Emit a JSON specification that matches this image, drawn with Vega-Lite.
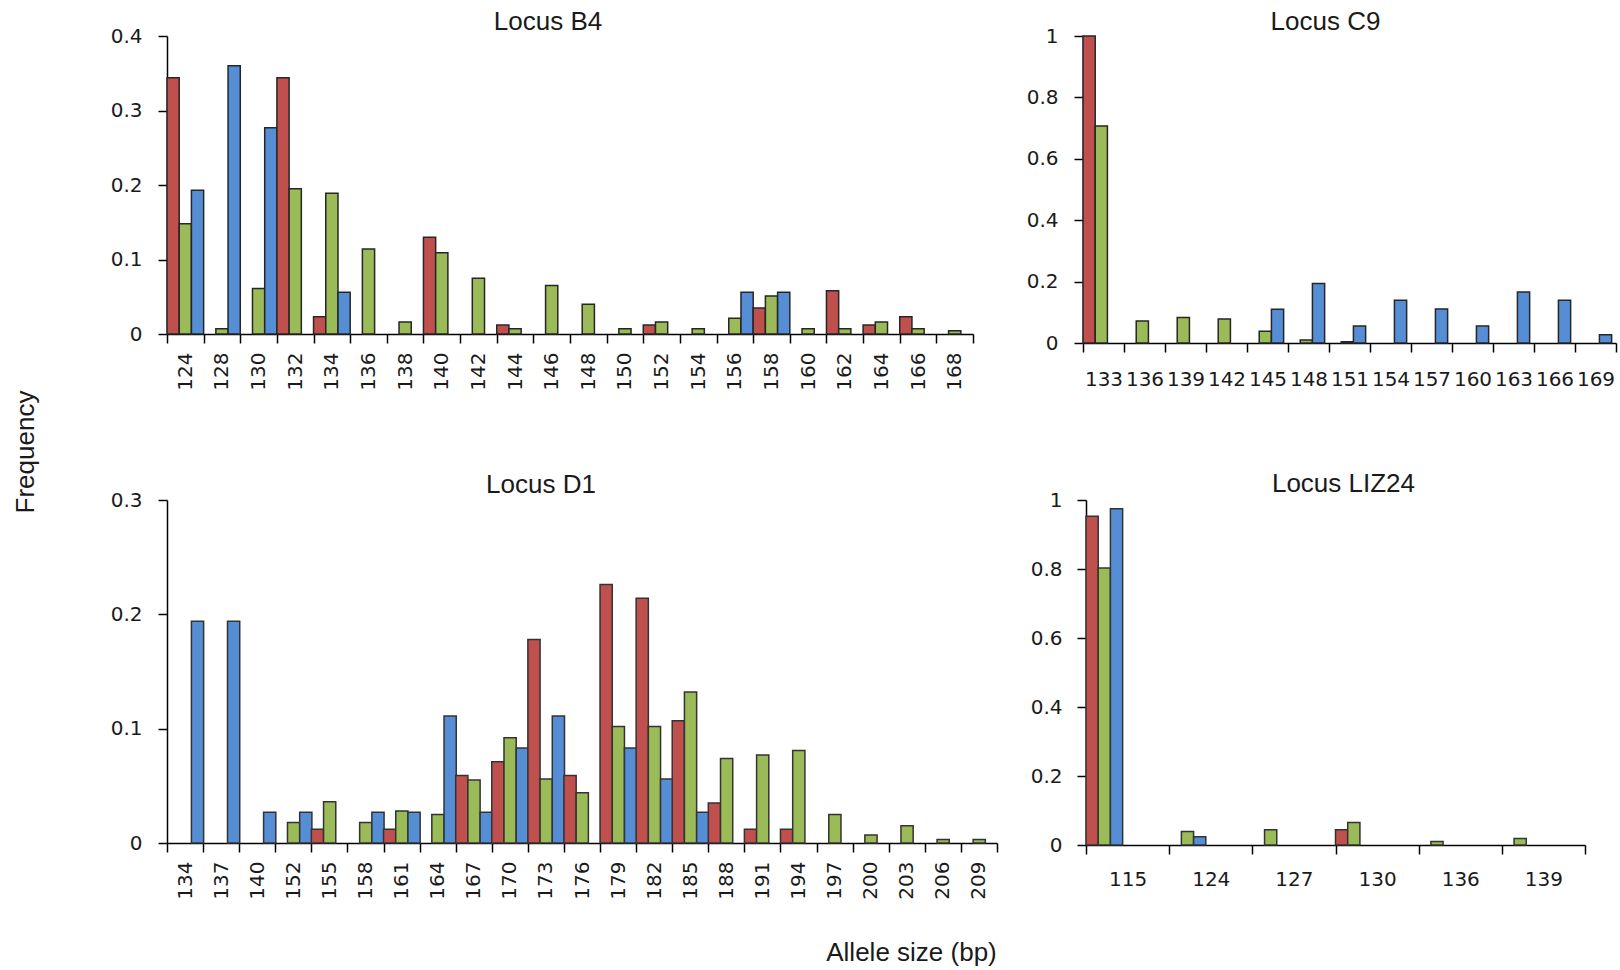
{
  "$schema": "https://vega.github.io/schema/vega-lite/v6.json",
  "padding": {"left": 13, "top": 9, "right": 3, "bottom": 5},
  "background": "white",
  "title": {"text": "Frequency", "orient": "left", "anchor": "middle", "fontSize": 26, "fontWeight": "normal", "font": "Liberation Sans", "color": "#1a1a1a", "offset": 71, "dx": 35},
  "datasets": {
    "alleles": [
      {"locus": "B4", "allele": 124, "pop": "Pop 1", "freq": 0.344},
      {"locus": "B4", "allele": 124, "pop": "Pop 2", "freq": 0.148},
      {"locus": "B4", "allele": 124, "pop": "Pop 3", "freq": 0.193},
      {"locus": "B4", "allele": 128, "pop": "Pop 2", "freq": 0.007},
      {"locus": "B4", "allele": 128, "pop": "Pop 3", "freq": 0.360},
      {"locus": "B4", "allele": 130, "pop": "Pop 2", "freq": 0.061},
      {"locus": "B4", "allele": 130, "pop": "Pop 3", "freq": 0.277},
      {"locus": "B4", "allele": 132, "pop": "Pop 1", "freq": 0.344},
      {"locus": "B4", "allele": 132, "pop": "Pop 2", "freq": 0.195},
      {"locus": "B4", "allele": 134, "pop": "Pop 1", "freq": 0.023},
      {"locus": "B4", "allele": 134, "pop": "Pop 2", "freq": 0.189},
      {"locus": "B4", "allele": 134, "pop": "Pop 3", "freq": 0.056},
      {"locus": "B4", "allele": 136, "pop": "Pop 2", "freq": 0.114},
      {"locus": "B4", "allele": 138, "pop": "Pop 2", "freq": 0.016},
      {"locus": "B4", "allele": 140, "pop": "Pop 1", "freq": 0.130},
      {"locus": "B4", "allele": 140, "pop": "Pop 2", "freq": 0.109},
      {"locus": "B4", "allele": 142, "pop": "Pop 2", "freq": 0.075},
      {"locus": "B4", "allele": 144, "pop": "Pop 1", "freq": 0.012},
      {"locus": "B4", "allele": 144, "pop": "Pop 2", "freq": 0.007},
      {"locus": "B4", "allele": 146, "pop": "Pop 2", "freq": 0.065},
      {"locus": "B4", "allele": 148, "pop": "Pop 2", "freq": 0.040},
      {"locus": "B4", "allele": 150, "pop": "Pop 2", "freq": 0.007},
      {"locus": "B4", "allele": 152, "pop": "Pop 1", "freq": 0.012},
      {"locus": "B4", "allele": 152, "pop": "Pop 2", "freq": 0.016},
      {"locus": "B4", "allele": 154, "pop": "Pop 2", "freq": 0.007},
      {"locus": "B4", "allele": 156, "pop": "Pop 2", "freq": 0.021},
      {"locus": "B4", "allele": 156, "pop": "Pop 3", "freq": 0.056},
      {"locus": "B4", "allele": 158, "pop": "Pop 1", "freq": 0.035},
      {"locus": "B4", "allele": 158, "pop": "Pop 2", "freq": 0.051},
      {"locus": "B4", "allele": 158, "pop": "Pop 3", "freq": 0.056},
      {"locus": "B4", "allele": 160, "pop": "Pop 2", "freq": 0.007},
      {"locus": "B4", "allele": 162, "pop": "Pop 1", "freq": 0.058},
      {"locus": "B4", "allele": 162, "pop": "Pop 2", "freq": 0.007},
      {"locus": "B4", "allele": 164, "pop": "Pop 1", "freq": 0.012},
      {"locus": "B4", "allele": 164, "pop": "Pop 2", "freq": 0.016},
      {"locus": "B4", "allele": 166, "pop": "Pop 1", "freq": 0.023},
      {"locus": "B4", "allele": 166, "pop": "Pop 2", "freq": 0.007},
      {"locus": "B4", "allele": 168, "pop": "Pop 2", "freq": 0.0045},

      {"locus": "C9", "allele": 133, "pop": "Pop 1", "freq": 1.0},
      {"locus": "C9", "allele": 133, "pop": "Pop 2", "freq": 0.707},
      {"locus": "C9", "allele": 136, "pop": "Pop 2", "freq": 0.072},
      {"locus": "C9", "allele": 139, "pop": "Pop 2", "freq": 0.083},
      {"locus": "C9", "allele": 142, "pop": "Pop 2", "freq": 0.078},
      {"locus": "C9", "allele": 145, "pop": "Pop 2", "freq": 0.038},
      {"locus": "C9", "allele": 145, "pop": "Pop 3", "freq": 0.110},
      {"locus": "C9", "allele": 148, "pop": "Pop 2", "freq": 0.010},
      {"locus": "C9", "allele": 148, "pop": "Pop 3", "freq": 0.194},
      {"locus": "C9", "allele": 151, "pop": "Pop 2", "freq": 0.004},
      {"locus": "C9", "allele": 151, "pop": "Pop 3", "freq": 0.055},
      {"locus": "C9", "allele": 154, "pop": "Pop 3", "freq": 0.139},
      {"locus": "C9", "allele": 157, "pop": "Pop 3", "freq": 0.111},
      {"locus": "C9", "allele": 160, "pop": "Pop 3", "freq": 0.055},
      {"locus": "C9", "allele": 163, "pop": "Pop 3", "freq": 0.166},
      {"locus": "C9", "allele": 166, "pop": "Pop 3", "freq": 0.139},
      {"locus": "C9", "allele": 169, "pop": "Pop 3", "freq": 0.027},

      {"locus": "D1", "allele": 134, "pop": "Pop 3", "freq": 0.194},
      {"locus": "D1", "allele": 137, "pop": "Pop 3", "freq": 0.194},
      {"locus": "D1", "allele": 140, "pop": "Pop 3", "freq": 0.027},
      {"locus": "D1", "allele": 152, "pop": "Pop 2", "freq": 0.018},
      {"locus": "D1", "allele": 152, "pop": "Pop 3", "freq": 0.027},
      {"locus": "D1", "allele": 155, "pop": "Pop 1", "freq": 0.012},
      {"locus": "D1", "allele": 155, "pop": "Pop 2", "freq": 0.036},
      {"locus": "D1", "allele": 158, "pop": "Pop 2", "freq": 0.018},
      {"locus": "D1", "allele": 158, "pop": "Pop 3", "freq": 0.027},
      {"locus": "D1", "allele": 161, "pop": "Pop 1", "freq": 0.012},
      {"locus": "D1", "allele": 161, "pop": "Pop 2", "freq": 0.028},
      {"locus": "D1", "allele": 161, "pop": "Pop 3", "freq": 0.027},
      {"locus": "D1", "allele": 164, "pop": "Pop 2", "freq": 0.025},
      {"locus": "D1", "allele": 164, "pop": "Pop 3", "freq": 0.111},
      {"locus": "D1", "allele": 167, "pop": "Pop 1", "freq": 0.059},
      {"locus": "D1", "allele": 167, "pop": "Pop 2", "freq": 0.055},
      {"locus": "D1", "allele": 167, "pop": "Pop 3", "freq": 0.027},
      {"locus": "D1", "allele": 170, "pop": "Pop 1", "freq": 0.071},
      {"locus": "D1", "allele": 170, "pop": "Pop 2", "freq": 0.092},
      {"locus": "D1", "allele": 170, "pop": "Pop 3", "freq": 0.083},
      {"locus": "D1", "allele": 173, "pop": "Pop 1", "freq": 0.178},
      {"locus": "D1", "allele": 173, "pop": "Pop 2", "freq": 0.056},
      {"locus": "D1", "allele": 173, "pop": "Pop 3", "freq": 0.111},
      {"locus": "D1", "allele": 176, "pop": "Pop 1", "freq": 0.059},
      {"locus": "D1", "allele": 176, "pop": "Pop 2", "freq": 0.044},
      {"locus": "D1", "allele": 179, "pop": "Pop 1", "freq": 0.226},
      {"locus": "D1", "allele": 179, "pop": "Pop 2", "freq": 0.102},
      {"locus": "D1", "allele": 179, "pop": "Pop 3", "freq": 0.083},
      {"locus": "D1", "allele": 182, "pop": "Pop 1", "freq": 0.214},
      {"locus": "D1", "allele": 182, "pop": "Pop 2", "freq": 0.102},
      {"locus": "D1", "allele": 182, "pop": "Pop 3", "freq": 0.056},
      {"locus": "D1", "allele": 185, "pop": "Pop 1", "freq": 0.107},
      {"locus": "D1", "allele": 185, "pop": "Pop 2", "freq": 0.132},
      {"locus": "D1", "allele": 185, "pop": "Pop 3", "freq": 0.027},
      {"locus": "D1", "allele": 188, "pop": "Pop 1", "freq": 0.035},
      {"locus": "D1", "allele": 188, "pop": "Pop 2", "freq": 0.074},
      {"locus": "D1", "allele": 191, "pop": "Pop 1", "freq": 0.012},
      {"locus": "D1", "allele": 191, "pop": "Pop 2", "freq": 0.077},
      {"locus": "D1", "allele": 194, "pop": "Pop 1", "freq": 0.012},
      {"locus": "D1", "allele": 194, "pop": "Pop 2", "freq": 0.081},
      {"locus": "D1", "allele": 197, "pop": "Pop 2", "freq": 0.025},
      {"locus": "D1", "allele": 200, "pop": "Pop 2", "freq": 0.007},
      {"locus": "D1", "allele": 203, "pop": "Pop 2", "freq": 0.015},
      {"locus": "D1", "allele": 206, "pop": "Pop 2", "freq": 0.003},
      {"locus": "D1", "allele": 209, "pop": "Pop 2", "freq": 0.003},

      {"locus": "LIZ24", "allele": 115, "pop": "Pop 1", "freq": 0.953},
      {"locus": "LIZ24", "allele": 115, "pop": "Pop 2", "freq": 0.803},
      {"locus": "LIZ24", "allele": 115, "pop": "Pop 3", "freq": 0.975},
      {"locus": "LIZ24", "allele": 124, "pop": "Pop 2", "freq": 0.039},
      {"locus": "LIZ24", "allele": 124, "pop": "Pop 3", "freq": 0.024},
      {"locus": "LIZ24", "allele": 127, "pop": "Pop 2", "freq": 0.044},
      {"locus": "LIZ24", "allele": 130, "pop": "Pop 1", "freq": 0.044},
      {"locus": "LIZ24", "allele": 130, "pop": "Pop 2", "freq": 0.065},
      {"locus": "LIZ24", "allele": 136, "pop": "Pop 2", "freq": 0.010},
      {"locus": "LIZ24", "allele": 139, "pop": "Pop 2", "freq": 0.019}
    ]
  },
  "data": {"name": "alleles"},
  "spacing": 80,
  "vconcat": [
    {
      "spacing": 52,
      "hconcat": [
        {
          "width": 806, "height": 298,
          "title": {"text": "Locus B4", "baseline": "alphabetic", "offset": -30, "dx": -22},
          "transform": [{"filter": "datum.locus === 'B4'"}],
          "mark": {"type": "bar", "stroke": "#262626", "strokeWidth": 1.5},
          "encoding": {
            "x": {"field": "allele", "type": "ordinal",
              "scale": {"domain": [124,128,130,132,134,136,138,140,142,144,146,148,150,152,154,156,158,160,162,164,166,168], "paddingInner": 0, "paddingOuter": 0},
              "axis": {"labelAngle": -90, "labelPadding": 9}},
            "xOffset": {"field": "pop", "scale": {"domain": ["Pop 1", "Pop 2", "Pop 3"], "paddingInner": 0, "paddingOuter": 0}},
            "y": {"field": "freq", "type": "quantitative", "scale": {"domain": [0, 0.4], "nice": false},
              "axis": {"values": [0, 0.1, 0.2, 0.3, 0.4], "labelPadding": 16}},
            "color": {"field": "pop", "type": "nominal", "legend": null,
              "scale": {"domain": ["Pop 1", "Pop 2", "Pop 3"], "range": ["#C0504D", "#9BBB59", "#558ED5"]}}
          }
        },
        {
          "width": 533, "height": 307,
          "title": {"text": "Locus C9", "baseline": "alphabetic", "offset": -30, "dx": -24},
          "transform": [{"filter": "datum.locus === 'C9'"}],
          "mark": {"type": "bar", "stroke": "#262626", "strokeWidth": 1.5},
          "encoding": {
            "x": {"field": "allele", "type": "ordinal",
              "scale": {"domain": [133,136,139,142,145,148,151,154,157,160,163,166,169], "paddingInner": 0, "paddingOuter": 0},
              "axis": {"labelAngle": 0, "labelPadding": 17}},
            "xOffset": {"field": "pop", "scale": {"domain": ["Pop 1", "Pop 2", "Pop 3"], "paddingInner": 0, "paddingOuter": 0}},
            "y": {"field": "freq", "type": "quantitative", "scale": {"domain": [0, 1], "nice": false},
              "axis": {"values": [0, 0.2, 0.4, 0.6, 0.8, 1], "labelPadding": 16}},
            "color": {"field": "pop", "type": "nominal", "legend": null}
          }
        }
      ]
    },
    {
      "spacing": 32,
      "hconcat": [
        {
          "width": 830, "height": 343,
          "title": {"text": "Locus D1", "baseline": "alphabetic", "offset": -29, "dx": -41},
          "transform": [{"filter": "datum.locus === 'D1'"}],
          "mark": {"type": "bar", "stroke": "#333333", "strokeWidth": 1.5},
          "encoding": {
            "x": {"field": "allele", "type": "ordinal",
              "scale": {"domain": [134,137,140,152,155,158,161,164,167,170,173,176,179,182,185,188,191,194,197,200,203,206,209], "paddingInner": 0, "paddingOuter": 0},
              "axis": {"labelAngle": -90, "labelPadding": 9, "title": "Allele size (bp)", "titleX": 744, "titleY": 117, "titleAlign": "center", "titleBaseline": "alphabetic", "titleFont": "Liberation Sans", "titleFontSize": 26, "titleFontWeight": "normal", "titleColor": "#1a1a1a"}},
            "xOffset": {"field": "pop", "scale": {"domain": ["Pop 1", "Pop 2", "Pop 3"], "paddingInner": 0, "paddingOuter": 0}},
            "y": {"field": "freq", "type": "quantitative", "scale": {"domain": [0, 0.3], "nice": false},
              "axis": {"values": [0, 0.1, 0.2, 0.3], "labelPadding": 16}},
            "color": {"field": "pop", "type": "nominal", "legend": null}
          }
        },
        {
          "width": 499, "height": 345,
          "title": {"text": "Locus LIZ24", "baseline": "alphabetic", "offset": -28, "dx": 8},
          "transform": [{"filter": "datum.locus === 'LIZ24'"}],
          "mark": {"type": "bar", "stroke": "#333333", "strokeWidth": 1.5},
          "encoding": {
            "x": {"field": "allele", "type": "ordinal",
              "scale": {"domain": [115,124,127,130,136,139], "paddingInner": 0, "paddingOuter": 0},
              "axis": {"labelAngle": 0, "labelPadding": 15}},
            "xOffset": {"field": "pop", "scale": {"domain": ["Pop 1", "Pop 2", "Pop 3"], "paddingInner": 0, "paddingOuter": 0.68}},
            "y": {"field": "freq", "type": "quantitative", "scale": {"domain": [0, 1], "nice": false},
              "axis": {"values": [0, 0.2, 0.4, 0.6, 0.8, 1], "labelPadding": 15}},
            "color": {"field": "pop", "type": "nominal", "legend": null}
          }
        }
      ]
    }
  ],
  "config": {
    "view": {"stroke": null},
    "axis": {
      "title": null, "grid": false,
      "labelFont": "DejaVu Sans", "labelFontSize": 20, "labelColor": "#1a1a1a",
      "labelOverlap": false, "labelBound": false, "labelFlush": false,
      "domainColor": "#000000", "domainWidth": 1.5,
      "tickColor": "#000000", "tickWidth": 1.5, "tickSize": 9,
      "format": "~g"
    },
    "axisX": {"tickBand": "extent"},
    "title": {"font": "Liberation Sans", "fontSize": 26, "fontWeight": "normal", "color": "#1a1a1a", "anchor": "middle"}
  }
}
